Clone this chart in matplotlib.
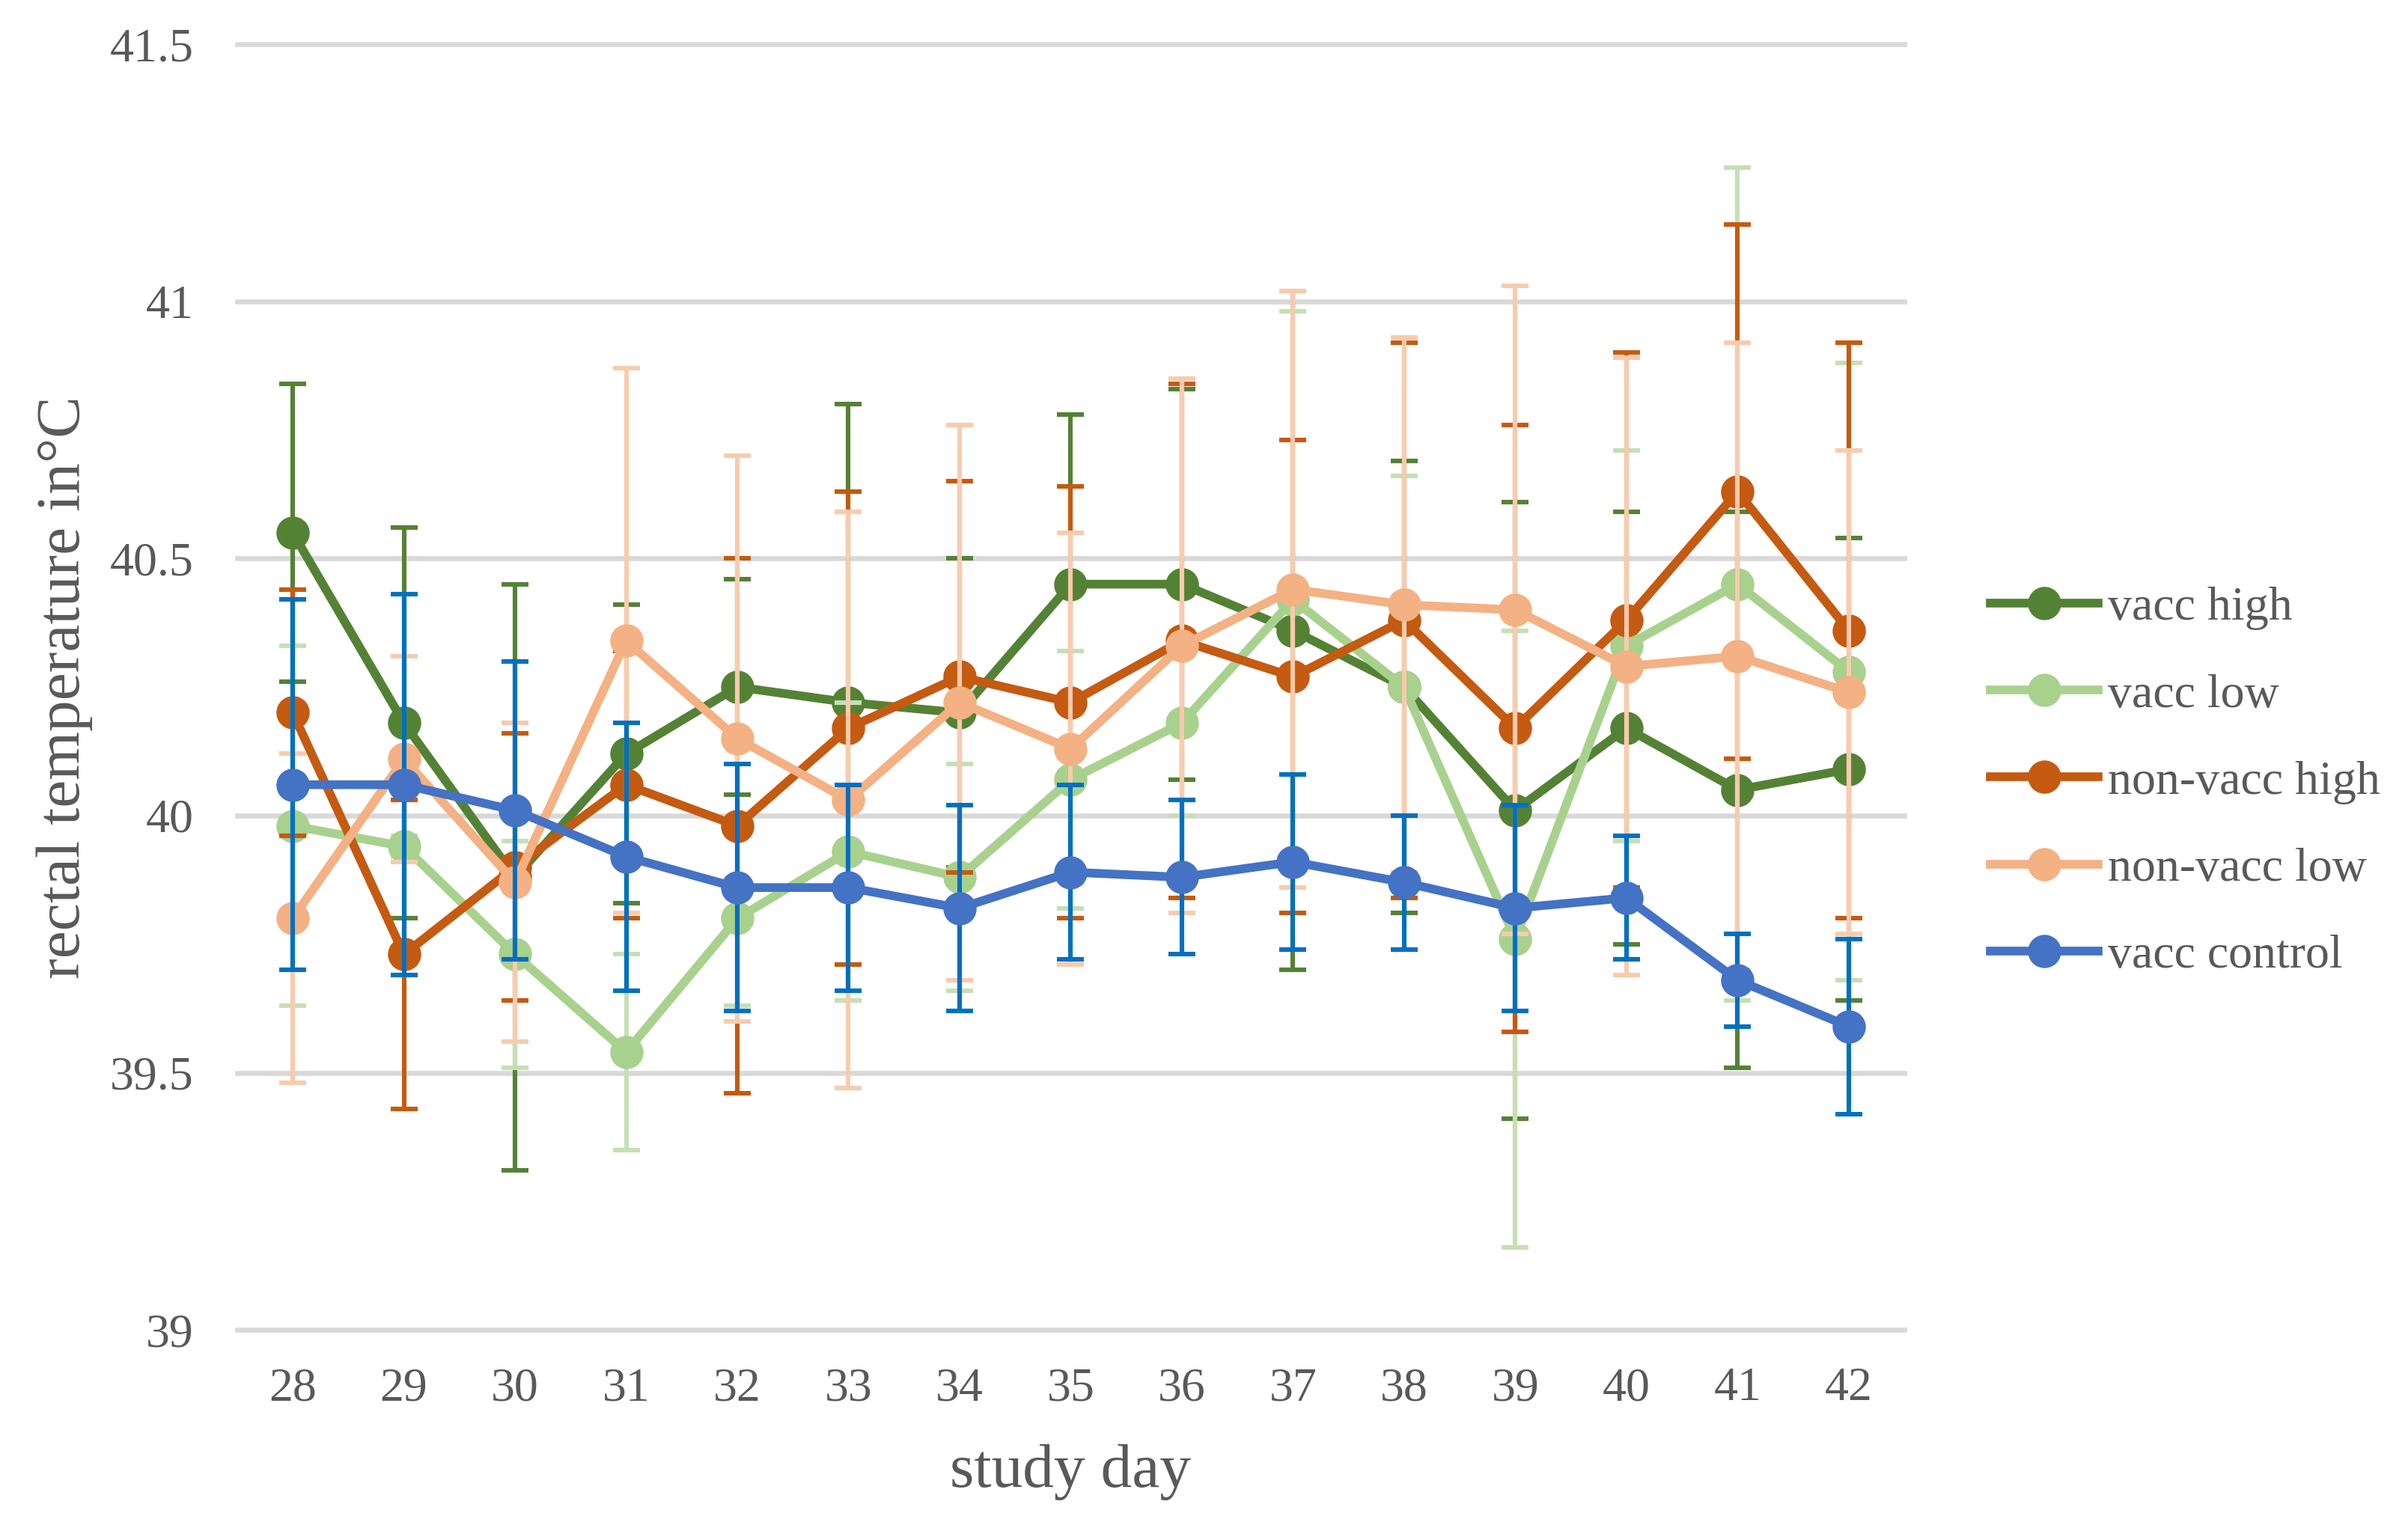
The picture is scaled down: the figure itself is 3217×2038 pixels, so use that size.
import numpy as np
import matplotlib
matplotlib.use('Agg')
import matplotlib.pyplot as plt

# study days and group means / SDs
days = [28, 29, 30, 31, 32, 33, 34, 35, 36, 37, 38, 39, 40, 41, 42]

vacc_high = [40.55, 40.18, 39.88, 40.12, 40.25, 40.22, 40.20, 40.45, 40.45, 40.36, 40.25, 40.01, 40.17, 40.05, 40.09]
vacc_high_sd = [0.29, 0.38, 0.57, 0.29, 0.21, 0.58, 0.30, 0.33, 0.38, 0.66, 0.44, 0.60, 0.42, 0.54, 0.45]

vacc_low = [39.98, 39.94, 39.73, 39.54, 39.80, 39.93, 39.88, 40.07, 40.18, 40.42, 40.25, 39.76, 40.33, 40.45, 40.28]
vacc_low_sd = [0.35, 0.02, 0.22, 0.19, 0.17, 0.29, 0.22, 0.25, 0.18, 0.56, 0.41, 0.60, 0.38, 0.81, 0.60]

nonvacc_high = [40.20, 39.73, 39.90, 40.06, 39.98, 40.17, 40.27, 40.22, 40.34, 40.27, 40.38, 40.17, 40.38, 40.63, 40.36]
nonvacc_high_sd = [0.24, 0.30, 0.26, 0.26, 0.52, 0.46, 0.38, 0.42, 0.50, 0.46, 0.54, 0.59, 0.52, 0.52, 0.56]

nonvacc_low = [39.80, 40.11, 39.87, 40.34, 40.15, 40.03, 40.22, 40.13, 40.33, 40.44, 40.41, 40.40, 40.29, 40.31, 40.24]
nonvacc_low_sd = [0.32, 0.20, 0.31, 0.53, 0.55, 0.56, 0.54, 0.42, 0.52, 0.58, 0.52, 0.63, 0.60, 0.61, 0.47]

vacc_control = [40.06, 40.06, 40.01, 39.92, 39.86, 39.86, 39.82, 39.89, 39.88, 39.91, 39.87, 39.82, 39.84, 39.68, 39.59]
vacc_control_sd = [0.36, 0.37, 0.29, 0.26, 0.24, 0.20, 0.20, 0.17, 0.15, 0.17, 0.13, 0.20, 0.12, 0.09, 0.17]

series = [
    ('vacc high', vacc_high, vacc_high_sd, '#548235', '#548235'),
    ('vacc low', vacc_low, vacc_low_sd, '#A9D18E', '#C5E0B4'),
    ('non-vacc high', nonvacc_high, nonvacc_high_sd, '#C55A11', '#C55A11'),
    ('non-vacc low', nonvacc_low, nonvacc_low_sd, '#F4B183', '#F8CBAD'),
    ('vacc control', vacc_control, vacc_control_sd, '#4472C4', '#0070C0'),
]

plt.rcParams['font.family'] = ['Liberation Serif', 'DejaVu Serif']
text_col = '#595959'

fig = plt.figure(figsize=(3217 / 200, 2038 / 200), dpi=200)
ax = fig.add_axes([0.0985, 0.128, 0.6923, 0.843])

x = np.arange(len(days))
for i, (name, mean, sd, col, ecol) in enumerate(series):
    ax.errorbar(x, mean, yerr=sd, fmt='none', ecolor=ecol, elinewidth=2.2,
                capsize=6.5, capthick=2.2, zorder=3 + 2 * i)
    ax.plot(x, mean, color=col, lw=4.2, marker='o', markersize=15,
            label=name, zorder=4 + 2 * i)

ax.set_xlim(-0.5, len(days) - 0.5)
ax.set_ylim(39, 41.5)
ax.set_xticks(x)
ax.set_xticklabels([str(d) for d in days])
ax.set_yticks([39, 39.5, 40, 40.5, 41, 41.5])
ax.set_yticklabels(['39', '39.5', '40', '40.5', '41', '41.5'])

ax.grid(axis='y', color='#D9D9D9', lw=2.4)
for gl in ax.get_ygridlines():
    gl.set_clip_on(False)
ax.set_axisbelow(True)
for s in ax.spines.values():
    s.set_visible(False)
ax.tick_params(axis='both', length=0, labelsize=23, labelcolor=text_col)
ax.tick_params(axis='y', pad=21)
ax.tick_params(axis='x', pad=18)

ax.set_xlabel('study day', fontsize=30, color=text_col, labelpad=16)
ax.set_ylabel('rectal temperature in°C', fontsize=30, color=text_col, labelpad=8)

leg = ax.legend(loc='center left', bbox_to_anchor=(0.8266, 0.487),
                bbox_transform=fig.transFigure, frameon=False, fontsize=23,
                handlelength=2.25, handletextpad=0.2, labelspacing=0.9,
                borderpad=0, borderaxespad=0)
for t in leg.get_texts():
    t.set_color(text_col)

fig.savefig('out.png', dpi=200)
